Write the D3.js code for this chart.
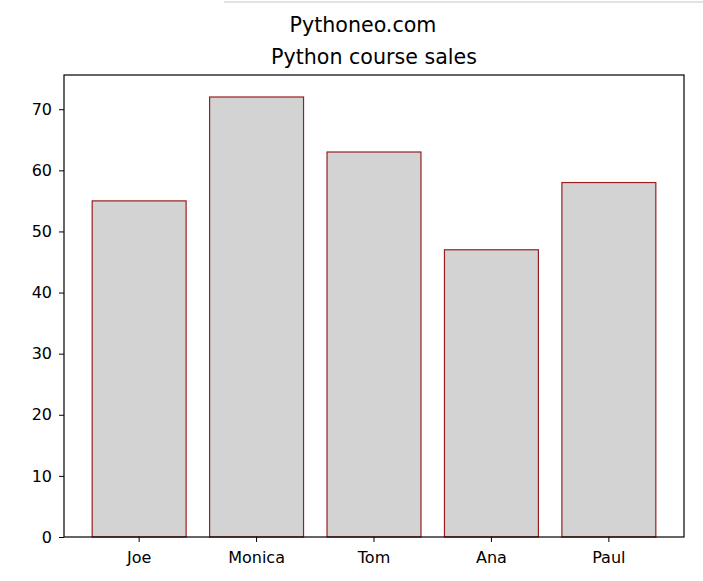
<!DOCTYPE html>
<html>
<head>
<meta charset="utf-8">
<script src="https://cdn.jsdelivr.net/npm/d3@7"></script>
<style>
	body { margin: 0; background: #fff; }
	svg text { font-family: "DejaVu Sans", sans-serif; fill: #000; }
</style>
</head>
<body>
<div id="chart"></div>
<script>

var names = ["Joe", "Monica", "Tom", "Ana", "Paul"];
var sales = [55, 72, 63, 47, 58];
var yTicks = [0, 10, 20, 30, 40, 50, 60, 70];

var width = 703,
	height = 581;

var plot = { left: 64, right: 684, top: 75, bottom: 537 };

var svg = d3.select("#chart")
	.append("svg")
	.attr("width", width)
	.attr("height", height);

// faint line at the very top of the screenshot
svg.append("line")
	.attr("x1", 224)
	.attr("x2", width)
	.attr("y1", 2)
	.attr("y2", 2)
	.attr("stroke", "#e2e2e2")
	.attr("stroke-width", 2);

var x = d3.scaleBand()
	.domain(names)
	.range([plot.left, plot.right])
	.paddingInner(0.2)
	.paddingOuter(0.24);

var y = d3.scaleLinear()
	.domain([0, d3.max(sales) * 1.05])
	.range([plot.bottom, plot.top]);

// bars
svg.append("g")
	.selectAll("rect")
	.data(sales)
	.enter()
	.append("rect")
	.attr("x", function(d, i) { return x(names[i]); })
	.attr("y", function(d) { return y(d); })
	.attr("width", x.bandwidth())
	.attr("height", function(d) { return y(0) - y(d); })
	.style("fill", "#d3d3d3")
	.style("stroke", "#9a1f1f")
	.style("stroke-width", 1.2);

// axes
var xAxis = d3.axisBottom(x).tickSize(5).tickSizeOuter(0).tickPadding(6);
var yAxis = d3.axisLeft(y).tickValues(yTicks).tickSize(5).tickSizeOuter(0).tickPadding(7);

var gx = svg.append("g")
	.attr("transform", "translate(0," + plot.bottom + ")")
	.call(xAxis);

var gy = svg.append("g")
	.attr("transform", "translate(" + plot.left + ",0)")
	.call(yAxis);

[gx, gy].forEach(function(g) {
	g.select(".domain").remove();
	g.selectAll(".tick line").attr("stroke", "#000").attr("stroke-width", 1);
	g.selectAll(".tick text").style("font-size", "16px").attr("fill", "#111");
});

gx.selectAll(".tick text").attr("dy", "0.95em");

// frame
svg.append("rect")
	.attr("x", plot.left)
	.attr("y", plot.top)
	.attr("width", plot.right - plot.left)
	.attr("height", plot.bottom - plot.top)
	.attr("fill", "none")
	.attr("stroke", "#000")
	.attr("stroke-width", 1.2);

// titles: suptitle sits at the figure centre, title over the axes
svg.append("text")
	.attr("x", 363)
	.attr("y", 31.5)
	.attr("text-anchor", "middle")
	.style("font-size", "20.6px")
	.text("Pythoneo.com");

svg.append("text")
	.attr("x", (plot.left + plot.right) / 2)
	.attr("y", 64)
	.attr("text-anchor", "middle")
	.style("font-size", "20.6px")
	.text("Python course sales");

</script>
</body>
</html>
